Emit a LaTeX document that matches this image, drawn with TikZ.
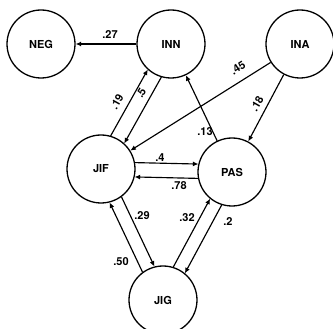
\documentclass[tikz,border=0pt]{standalone}
\usepackage{fontspec}
\setmainfont{TeX Gyre Heros}
\usetikzlibrary{calc,arrows.meta}
% straight link between two circles, shifted to the left of its direction
\newcommand\offlink[3]{\draw[arr] ($(#1)!34.5pt!#3:(#2)$) -- ($(#2)!34.5pt!-#3:(#1)$);}
\begin{document}
\begin{tikzpicture}[x=1pt,y=-1pt,
  state/.style={circle,draw,line width=1.3pt,minimum size=68pt,inner sep=0pt,
    font=\bfseries\fontsize{11}{12}\selectfont},
  arr/.style={line width=1.15pt,-{Latex[length=5.5pt,width=5pt]}},
  lbl/.style={font=\bfseries\fontsize{11}{12}\selectfont,inner sep=0pt}]
\useasboundingbox (0,0) rectangle (333,329);
% states
\node[state] (NEG) at (41,44)  {NEG};
\node[state] (INN) at (171,44) {INN};
\node[state] (INA) at (300,44) {INA};
\node[state] (JIF) at (101,169) {JIF};
\node[state] (PAS) at (232,172) {PAS};
\node[state] (JIG) at (163,300) {JIG};
% paired transitions
\offlink{JIF}{INN}{13}
\offlink{INN}{JIF}{13}
\offlink{JIF}{PAS}{12}
\offlink{PAS}{JIF}{12}
\offlink{JIF}{JIG}{11}
\offlink{JIG}{JIF}{11}
\offlink{JIG}{PAS}{11}
\offlink{PAS}{JIG}{11}
% single transitions
\draw[arr] (INN) -- (NEG);
\draw[arr] (INA) -- (JIF);
\draw[arr] (INA) -- (PAS);
\draw[arr] (PAS) -- (INN);
% transition probabilities
\node[lbl] (l27) at (110,35) {.27};
\node[lbl,rotate=61] (l19) at (117,102) {.19};
\node[lbl,rotate=60] (l5) at (141,93) {.5};
\node[lbl,rotate=33] (l45) at (238,68) {.45};
\node[lbl,rotate=60] (l18) at (257,104) {.18};
\node[lbl] (l13) at (205,132) {.13};
\node[lbl] (l4) at (160,158) {.4};
\node[lbl] (l78) at (179,186) {.78};
\node[lbl] (l29) at (142,216) {.29};
\node[lbl] (l50) at (121,262) {.50};
\node[lbl] (l32) at (187,218) {.32};
\node[lbl] (l2) at (228,222) {.2};
\end{tikzpicture}
\end{document}
